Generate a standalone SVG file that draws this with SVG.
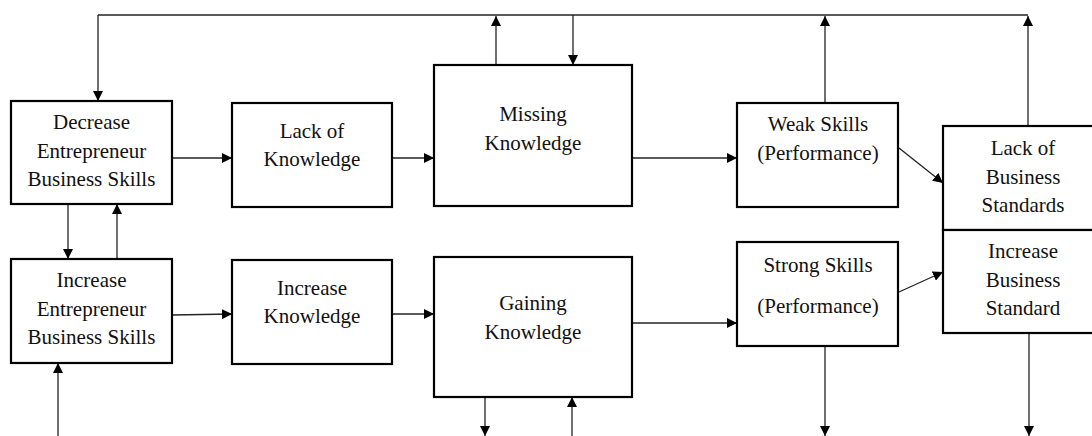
<svg xmlns="http://www.w3.org/2000/svg" width="1092" height="436" viewBox="0 0 1092 436">
  <style>
    .box { fill: #ffffff; stroke: #000000; stroke-width: 2.2; }
    .lbl { font-family: "Liberation Serif", "Times New Roman", serif; font-size: 21px; fill: #111111; text-anchor: middle; }
    .wire { fill: none; stroke: #222222; stroke-width: 1.3; }
    .arr { marker-end: url(#head); }
  </style>
  <defs>
    <marker id="head" markerUnits="userSpaceOnUse" markerWidth="10" markerHeight="10" viewBox="0 0 10 10" refX="10" refY="5" orient="auto">
      <path d="M0,0 L10,5 L0,10 Z" fill="#000000"/>
    </marker>
  </defs>
  <rect width="1092" height="436" fill="#ffffff"/>

  <!-- connectors -->
  <g id="connectors">
    <path class="wire" d="M98,15 H1028"/>
    <path class="wire arr" d="M98,15 V101"/>
    <path class="wire arr" d="M496,65 V16"/>
    <path class="wire arr" d="M573,15 V65"/>
    <path class="wire arr" d="M825,103 V16"/>
    <path class="wire arr" d="M1028,126 V16"/>
    <path class="wire arr" d="M172,158 H232"/>
    <path class="wire arr" d="M392,158 H434"/>
    <path class="wire arr" d="M632,158 H737"/>
    <path class="wire arr" d="M899,148 L943,183"/>
    <path class="wire arr" d="M68,204 V259"/>
    <path class="wire arr" d="M117,259 V204"/>
    <path class="wire arr" d="M172,315 L232,314"/>
    <path class="wire arr" d="M392,314 H434"/>
    <path class="wire arr" d="M632,323 H737"/>
    <path class="wire arr" d="M899,292 L943,272"/>
    <path class="wire arr" d="M58,436 V363"/>
    <path class="wire arr" d="M485,397 V436"/>
    <path class="wire arr" d="M572,436 V397"/>
    <path class="wire arr" d="M825,346 V436"/>
    <path class="wire arr" d="M1029,333 V436"/>
  </g>

  <g id="decrease-skills">
    <rect class="box" x="11" y="101" width="161" height="103"/>
    <text class="lbl" x="91.5" y="129">Decrease</text>
    <text class="lbl" x="91.5" y="158">Entrepreneur</text>
    <text class="lbl" x="91.5" y="186">Business Skills</text>
  </g>

  <g id="lack-knowledge">
    <rect class="box" x="232" y="103" width="160" height="104"/>
    <text class="lbl" x="312" y="138">Lack of</text>
    <text class="lbl" x="312" y="166">Knowledge</text>
  </g>

  <g id="missing-knowledge">
    <rect class="box" x="434" y="65" width="198" height="141"/>
    <text class="lbl" x="533" y="121">Missing</text>
    <text class="lbl" x="533" y="150">Knowledge</text>
  </g>

  <g id="weak-skills">
    <rect class="box" x="737" y="103" width="161" height="104"/>
    <text class="lbl" x="818" y="131">Weak Skills</text>
    <text class="lbl" x="818" y="160">(Performance)</text>
  </g>

  <g id="lack-standards">
    <rect class="box" x="943" y="126" width="160" height="104"/>
    <text class="lbl" x="1023" y="155">Lack of</text>
    <text class="lbl" x="1023" y="184">Business</text>
    <text class="lbl" x="1023" y="212">Standards</text>
  </g>

  <g id="increase-skills">
    <rect class="box" x="11" y="259" width="161" height="104"/>
    <text class="lbl" x="91.5" y="287">Increase</text>
    <text class="lbl" x="91.5" y="316">Entrepreneur</text>
    <text class="lbl" x="91.5" y="344">Business Skills</text>
  </g>

  <g id="increase-knowledge">
    <rect class="box" x="232" y="260" width="160" height="104"/>
    <text class="lbl" x="312" y="295">Increase</text>
    <text class="lbl" x="312" y="323">Knowledge</text>
  </g>

  <g id="gaining-knowledge">
    <rect class="box" x="434" y="257" width="198" height="140"/>
    <text class="lbl" x="533" y="310">Gaining</text>
    <text class="lbl" x="533" y="339">Knowledge</text>
  </g>

  <g id="strong-skills">
    <rect class="box" x="737" y="242" width="161" height="104"/>
    <text class="lbl" x="818" y="272">Strong Skills</text>
    <text class="lbl" x="818" y="313">(Performance)</text>
  </g>

  <g id="increase-standard">
    <rect class="box" x="943" y="230" width="160" height="103"/>
    <text class="lbl" x="1023" y="258">Increase</text>
    <text class="lbl" x="1023" y="287">Business</text>
    <text class="lbl" x="1023" y="315">Standard</text>
  </g>
</svg>
